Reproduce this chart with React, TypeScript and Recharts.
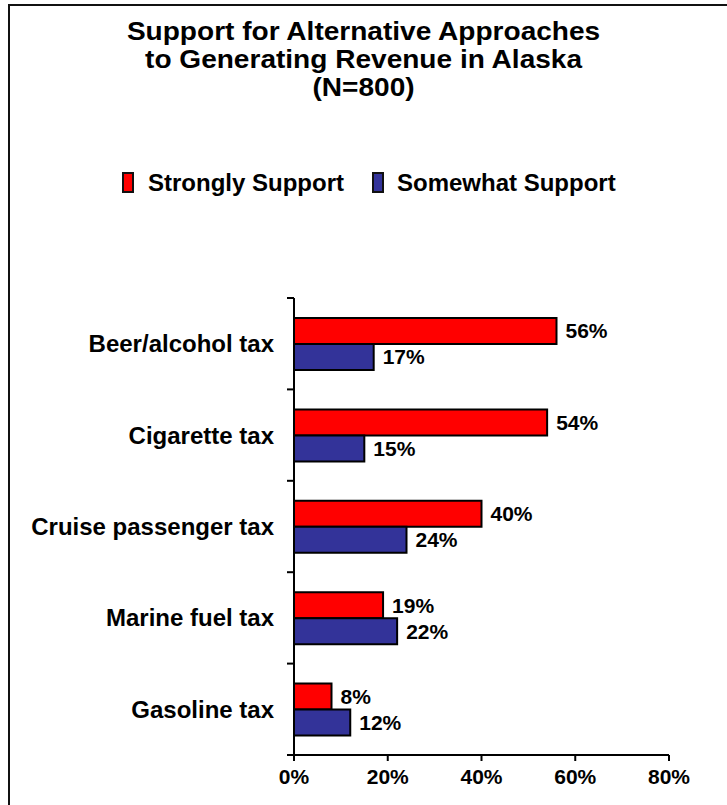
import { BarChart, Bar, XAxis, YAxis, LabelList } from "recharts"

const categories = [
  "Beer/alcohol tax",
  "Cigarette tax",
  "Cruise passenger tax",
  "Marine fuel tax",
  "Gasoline tax",
]
const stronglySupport = [56, 54, 40, 19, 8]
const somewhatSupport = [17, 15, 24, 22, 12]
const xTicks = [0, 20, 40, 60, 80]

const data = categories.map((name, i) => ({
  name,
  strongly: stronglySupport[i],
  somewhat: somewhatSupport[i],
}))

const W = 727
const H = 805
const MARGIN = { top: 298, right: 58, bottom: 0, left: 14 }
const X_AXIS_H = 50
const PLOT_H = H - MARGIN.top - MARGIN.bottom - X_AXIS_H
const TICK_MARGIN = 20
const FONT = "'Liberation Sans', Arial, Helvetica, sans-serif"

const CategoryTick = (props: any) => {
  const { x, y, payload, index } = props
  const band = PLOT_H / categories.length
  const axisX = x + TICK_MARGIN
  return (
    <g>
      <text
        x={x}
        y={y}
        textAnchor="end"
        dominantBaseline="central"
        fontFamily={FONT}
        fontWeight="bold"
        fontSize={24}
        fill="#000"
      >
        {payload.value}
      </text>
      <line x1={axisX - 7} x2={axisX} y1={y - band / 2} y2={y - band / 2} stroke="#000" strokeWidth={2} />
      {index === categories.length - 1 && (
        <line x1={axisX - 7} x2={axisX} y1={y + band / 2} y2={y + band / 2} stroke="#000" strokeWidth={2} />
      )}
    </g>
  )
}

const LegendItem: React.FC<{ color: string; label: string; left: number; textLeft: number }> = ({
  color,
  label,
  left,
  textLeft,
}) => (
  <>
    <div
      style={{
        position: "absolute",
        left,
        top: 172,
        width: 8,
        height: 17,
        background: color,
        border: "2px solid #111",
      }}
    />
    <div
      style={{
        position: "absolute",
        left: textLeft,
        top: 168,
        fontFamily: FONT,
        fontWeight: "bold",
        fontSize: 24,
        lineHeight: "30px",
        whiteSpace: "nowrap",
      }}
    >
      {label}
    </div>
  </>
)

export default function App() {
  return (
    <div style={{ position: "absolute", left: 0, top: 0, width: W, height: H, background: "#fff", overflow: "hidden" }}>
      <div
        style={{
          position: "absolute",
          left: 8,
          top: 4,
          width: W,
          height: H,
          borderLeft: "2px solid #111",
          borderTop: "2px solid #111",
        }}
      />
      <div
        style={{
          position: "absolute",
          left: 0,
          top: 17,
          width: W,
          textAlign: "center",
          fontFamily: FONT,
          fontWeight: "bold",
          fontSize: 25.5,
          lineHeight: "28px",
          transform: "scaleX(1.1)",
          transformOrigin: "363px 50%",
        }}
      >
        Support for Alternative Approaches
        <br />
        to Generating Revenue in Alaska
        <br />
        (N=800)
      </div>
      <LegendItem color="#FF0000" label="Strongly Support" left={122} textLeft={148} />
      <LegendItem color="#333399" label="Somewhat Support" left={372} textLeft={397} />
      <div style={{ position: "absolute", left: 0, top: 0 }}>
        <BarChart width={W} height={H} data={data} layout="vertical" margin={MARGIN} barGap={0}>
          <XAxis
            type="number"
            domain={[0, 80]}
            ticks={xTicks}
            interval={0}
            height={X_AXIS_H}
            tickSize={6}
            tickMargin={8}
            axisLine={{ stroke: "#000", strokeWidth: 2 }}
            tickLine={{ stroke: "#000", strokeWidth: 2 }}
            tickFormatter={(v: number) => `${v}%`}
            tick={{ fill: "#000", fontSize: 21, fontWeight: "bold", fontFamily: FONT }}
          />
          <YAxis
            type="category"
            dataKey="name"
            width={280}
            tickSize={0}
            tickMargin={TICK_MARGIN}
            tickLine={false}
            axisLine={{ stroke: "#000", strokeWidth: 2 }}
            tick={<CategoryTick />}
            interval={0}
          />
          <Bar dataKey="strongly" fill="#FF0000" stroke="#000" strokeWidth={2} barSize={26} isAnimationActive={false}>
            <LabelList
              dataKey="strongly"
              position="right"
              offset={9}
              formatter={(v: any) => `${v}%`}
              style={{ fill: "#000", fontSize: 21, fontWeight: "bold", fontFamily: FONT }}
            />
          </Bar>
          <Bar dataKey="somewhat" fill="#333399" stroke="#000" strokeWidth={2} barSize={26} isAnimationActive={false}>
            <LabelList
              dataKey="somewhat"
              position="right"
              offset={9}
              formatter={(v: any) => `${v}%`}
              style={{ fill: "#000", fontSize: 21, fontWeight: "bold", fontFamily: FONT }}
            />
          </Bar>
        </BarChart>
      </div>
    </div>
  )
}
